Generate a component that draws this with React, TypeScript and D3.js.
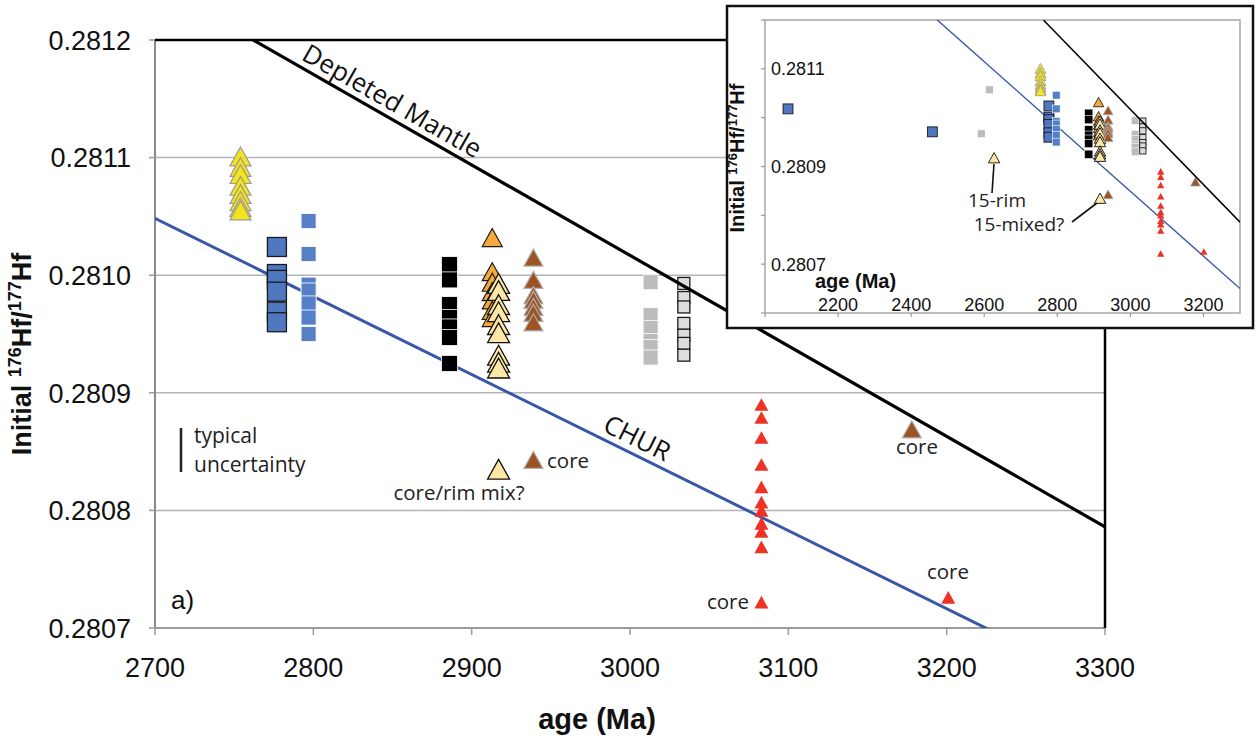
import React from "react";
import * as d3 from "d3";

const width = 1258;
const height = 747;

// main plot frame
const main = { left: 155, right: 1105, top: 40, bottom: 628 };
// inset frame
const insetBox = { left: 727, right: 1253, top: 6, bottom: 328 };
const inset = { left: 765, right: 1240, top: 20, bottom: 313 };

// ---- data (age in Ma, initial 176Hf/177Hf) ----
const yellowAges = [2754, 2754, 2754, 2754, 2754, 2754, 2754, 2754];
const yellowVals = [0.281101, 0.281092, 0.281086, 0.281076, 0.281069, 0.281063, 0.281058, 0.281055];

const bigBlueAges = [2063, 2458, 2777, 2777, 2777, 2777, 2777, 2777];
const bigBlueVals = [0.281018, 0.280971, 0.281024, 0.281001, 0.280996, 0.280986, 0.280969, 0.28096];

const smallBlueAges = [2797, 2797, 2797, 2797, 2797, 2797, 2797];
const smallBlueVals = [0.281046, 0.281018, 0.280992, 0.280987, 0.280976, 0.280964, 0.28095];

const blackAges = [2886, 2886, 2886, 2886, 2886, 2886, 2886];
const blackVals = [0.281009, 0.280996, 0.280975, 0.280964, 0.280956, 0.280947, 0.280925];

const orangeAges = [2913, 2913, 2913, 2913, 2913, 2913, 2913];
const orangeVals = [0.281032, 0.281003, 0.280994, 0.280986, 0.280979, 0.28097, 0.280964];

const paleAges = [2627, 2917, 2917, 2917, 2917, 2917, 2917, 2917, 2917, 2917, 2917];
const paleVals = [0.280918, 0.280993, 0.280987, 0.280975, 0.280969, 0.280958, 0.280951, 0.280932, 0.280926, 0.280921, 0.280835];

const brownAges = [2939, 2939, 2939, 2939, 2939, 2939, 2939, 2939, 3178];
const brownVals = [0.281015, 0.280996, 0.280983, 0.280979, 0.280973, 0.280968, 0.28096, 0.280843, 0.280869];

const greyAges = [2614, 2592, 3013, 3013, 3013, 3013, 3013, 3013];
const greyVals = [0.281057, 0.280967, 0.280994, 0.280966, 0.280955, 0.280944, 0.280939, 0.28093];

const lightGreyAges = [3034, 3034, 3034, 3034, 3034, 3034, 3034];
const lightGreyVals = [0.280993, 0.280981, 0.280973, 0.280959, 0.280949, 0.280942, 0.280932];

const redAges = [3083, 3083, 3083, 3083, 3083, 3083, 3083, 3083, 3083, 3083, 3083, 3201];
const redVals = [0.28089, 0.280879, 0.280862, 0.280839, 0.28082, 0.280807, 0.2808, 0.280789, 0.280782, 0.280769, 0.280722, 0.280726];

// evolution lines
const churAges = [2000, 3300];
const churVals = [0.281513, 0.28065];
const dmAges = [2762, 3300];
const dmVals = [0.2812, 0.280786];

const xTicks = [2700, 2800, 2900, 3000, 3100, 3200, 3300];
const yTicks = [0.2807, 0.2808, 0.2809, 0.281, 0.2811, 0.2812];
const insetXTicks = [2200, 2400, 2600, 2800, 3000, 3200];
const insetYTicks = [0.2807, 0.2809, 0.2811];
const insetYMinor = [0.2806, 0.2807, 0.2808, 0.2809, 0.281, 0.2811, 0.2812];

const zip = (a, v) => a.map((d, i) => [d, v[i]]);

const series = [
  { pts: zip(bigBlueAges, bigBlueVals), shape: "sq", size: 19, fill: "#4f78c0", stroke: "#1a1a1a", sw: 1.3 },
  { pts: zip(smallBlueAges, smallBlueVals), shape: "sq", size: 15, fill: "#5580c6", stroke: "#ffffff", sw: 0.8 },
  { pts: zip(yellowAges, yellowVals), shape: "tri", size: 21, fill: "#f4e41a", stroke: "#9a9a9a", sw: 1.2 },
  { pts: zip(blackAges, blackVals), shape: "sq", size: 16, fill: "#000000", stroke: "#ffffff", sw: 0.8 },
  { pts: zip(orangeAges, orangeVals), shape: "tri", size: 20, fill: "#f5a93a", stroke: "#1a1a1a", sw: 1.2 },
  { pts: zip(paleAges, paleVals), shape: "tri", size: 22, fill: "#fde7a6", stroke: "#111111", sw: 1.3 },
  { pts: zip(brownAges, brownVals), shape: "tri", size: 19, fill: "#9c5424", stroke: "#b0b0b0", sw: 1.2 },
  { pts: zip(greyAges, greyVals), shape: "sq", size: 15, fill: "#bcbcbc", stroke: "#ffffff", sw: 0.8 },
  { pts: zip(lightGreyAges, lightGreyVals), shape: "sq", size: 12, fill: "#dddddd", stroke: "#1a1a1a", sw: 1.3 },
  { pts: zip(redAges, redVals), shape: "tri", size: 14, fill: "#ee3224", stroke: "none", sw: 0 },
];

const xMain = d3.scaleLinear().domain([2700, 3300]).range([main.left, main.right]);
const yMain = d3.scaleLinear().domain([0.2807, 0.2812]).range([main.bottom, main.top]);
const xIn = d3.scaleLinear().domain([2000, 3300]).range([inset.left, inset.right]);
const yIn = d3.scaleLinear().domain([0.2806, 0.2812]).range([inset.bottom, inset.top]);

function Marker({ shape, cx, cy, size, fill, stroke, sw }) {
  if (shape === "sq") {
    return <rect x={cx - size / 2} y={cy - size / 2} width={size} height={size} fill={fill} stroke={stroke} strokeWidth={sw} />;
  }
  const h = size * 0.9;
  const p = `M${cx},${cy - h / 2}L${cx + size / 2},${cy + h / 2}L${cx - size / 2},${cy + h / 2}Z`;
  return <path d={p} fill={fill} stroke={stroke} strokeWidth={sw} strokeLinejoin="miter" />;
}

function Points({ x, y, k }) {
  return (
    <g>
      {series.map((s, si) =>
        s.pts.map((d, i) => (
          <Marker key={si + "-" + i} shape={s.shape} cx={x(d[0])} cy={y(d[1])} size={s.size * k}
            fill={s.fill} stroke={s.stroke} sw={s.sw * (k < 1 ? 0.7 : 1)} />
        ))
      )}
    </g>
  );
}

const line = (x, y, ages, vals) =>
  d3.line().x(d => x(d[0])).y(d => y(d[1]))(zip(ages, vals));

export default function App() {
  const annFont = "'Open Sans', 'Noto Sans', sans-serif";
  const tickFont = "'Liberation Sans', Arial, sans-serif";

  // angles for on-line labels
  const dmAngle = Math.atan2(yMain(dmVals[1]) - yMain(dmVals[0]), xMain(dmAges[1]) - xMain(dmAges[0])) * 180 / Math.PI;
  const churAngle = Math.atan2(yMain(churVals[1]) - yMain(churVals[0]), xMain(churAges[1]) - xMain(churAges[0])) * 180 / Math.PI;
  const dmAt = a => dmVals[0] + (a - dmAges[0]) * (dmVals[1] - dmVals[0]) / (dmAges[1] - dmAges[0]);
  const churAt = a => churVals[0] + (a - churAges[0]) * (churVals[1] - churVals[0]) / (churAges[1] - churAges[0]);

  return (
    <svg width={width} height={height} style={{ position: "absolute", left: 0, top: 0, background: "#fff" }}>
      <defs>
        <clipPath id="mainClip">
          <rect x={main.left} y={main.top} width={main.right - main.left} height={main.bottom - main.top} />
        </clipPath>
        <clipPath id="insetClip">
          <rect x={inset.left} y={inset.top} width={inset.right - inset.left} height={inset.bottom - inset.top} />
        </clipPath>
      </defs>

      {/* gridlines */}
      {yTicks.slice(1, -1).map(t => (
        <line key={t} x1={main.left} x2={main.right} y1={yMain(t)} y2={yMain(t)} stroke="#b4b4b4" strokeWidth={1.5} />
      ))}

      {/* axes */}
      <line x1={main.left} x2={main.left} y1={main.top} y2={main.bottom} stroke="#8a8a8a" strokeWidth={2} />
      <line x1={main.left} x2={main.right} y1={main.bottom} y2={main.bottom} stroke="#9a9a9a" strokeWidth={2} />
      <line x1={main.left} x2={main.right} y1={main.top} y2={main.top} stroke="#000" strokeWidth={2.5} />
      <line x1={main.right} x2={main.right} y1={main.top} y2={main.bottom} stroke="#000" strokeWidth={2.5} />
      {yTicks.map(t => (
        <g key={t}>
          <line x1={main.left - 6} x2={main.left} y1={yMain(t)} y2={yMain(t)} stroke="#9a9a9a" strokeWidth={1.5} />
          <text x={131} y={yMain(t)} dy="0.36em" textAnchor="end" fontFamily={tickFont} fontSize={27} fill="#111">
            {t.toFixed(4)}
          </text>
        </g>
      ))}
      {xTicks.map(t => (
        <g key={t}>
          <line x1={xMain(t)} x2={xMain(t)} y1={main.bottom} y2={main.bottom + 7} stroke="#9a9a9a" strokeWidth={1.5} />
          <text x={xMain(t)} y={677} textAnchor="middle" fontFamily={tickFont} fontSize={27} fill="#111">{t}</text>
        </g>
      ))}
      <text x={597} y={729} textAnchor="middle" fontFamily={tickFont} fontWeight="bold" fontSize={29} fill="#111">age (Ma)</text>
      <text transform="translate(31,354) rotate(-90)" textAnchor="middle" fontFamily={tickFont} fontWeight="bold" fontSize={27} fill="#111">
        Initial <tspan fontSize={18} dy={-10}>176</tspan><tspan dy={10}>Hf/</tspan><tspan fontSize={18} dy={-10}>177</tspan><tspan dy={10}>Hf</tspan>
      </text>

      {/* main plot content */}
      <g clipPath="url(#mainClip)">
        <path d={line(xMain, yMain, churAges, churVals)} fill="none" stroke="#3857a8" strokeWidth={3} />
        <Points x={xMain} y={yMain} k={1} />
        <path d={line(xMain, yMain, dmAges, dmVals)} fill="none" stroke="#000" strokeWidth={3.2} />
      </g>

      {/* line labels */}
      <text transform={`translate(${xMain(2847)},${yMain(dmAt(2847)) - 8}) rotate(${dmAngle})`} textAnchor="middle"
        fontFamily={annFont} fontSize={26} fill="#111">Depleted Mantle</text>
      <text transform={`translate(${xMain(3002)},${yMain(churAt(3002)) - 8}) rotate(${churAngle})`} textAnchor="middle"
        fontFamily={annFont} fontSize={26} fill="#111">CHUR</text>

      {/* annotations */}
      <line x1={181} x2={181} y1={428} y2={472} stroke="#222" strokeWidth={2.5} />
      <text x={194} y={443} fontFamily={annFont} fontSize={21} fill="#222">typical</text>
      <text x={194} y={472} fontFamily={annFont} fontSize={21} fill="#222">uncertainty</text>
      <text x={459} y={500} textAnchor="middle" fontFamily={annFont} fontSize={20.5} fill="#222">core/rim mix?</text>
      <text x={547} y={468} fontFamily={annFont} fontSize={20.5} fill="#222">core</text>
      <text x={917} y={454} textAnchor="middle" fontFamily={annFont} fontSize={20.5} fill="#222">core</text>
      <text x={948} y={579} textAnchor="middle" fontFamily={annFont} fontSize={20.5} fill="#222">core</text>
      <text x={749} y={609} textAnchor="end" fontFamily={annFont} fontSize={20.5} fill="#222">core</text>
      <text x={171} y={609} fontFamily={tickFont} fontSize={26} fill="#111">a)</text>

      {/* inset */}
      <rect x={insetBox.left} y={insetBox.top} width={insetBox.right - insetBox.left} height={insetBox.bottom - insetBox.top}
        fill="#fff" stroke="#111" strokeWidth={2.5} />
      <rect x={inset.left} y={inset.top} width={inset.right - inset.left} height={inset.bottom - inset.top}
        fill="none" stroke="#9a9a9a" strokeWidth={1.3} />
      {insetYMinor.map(t => (
        <line key={t} x1={inset.left - 4} x2={inset.left} y1={yIn(t)} y2={yIn(t)} stroke="#9a9a9a" strokeWidth={1.2} />
      ))}
      {[2000, ...insetXTicks].map(t => (
        <line key={t} x1={xIn(t)} x2={xIn(t)} y1={inset.bottom} y2={inset.bottom + 4} stroke="#9a9a9a" strokeWidth={1.2} />
      ))}
      <g clipPath="url(#insetClip)">
        <path d={line(xIn, yIn, churAges, churVals)} fill="none" stroke="#3857a8" strokeWidth={1.4} />
        <Points x={xIn} y={yIn} k={0.52} />
        <path d={line(xIn, yIn, dmAges, dmVals)} fill="none" stroke="#000" strokeWidth={1.5} />
      </g>
      {insetYTicks.map(t => (
        <text key={t} x={771} y={yIn(t)} dy="0.36em" fontFamily={tickFont} fontSize={18} fill="#111">{t.toFixed(4)}</text>
      ))}
      {insetXTicks.map(t => (
        <text key={t} x={xIn(t)} y={311} textAnchor="middle" fontFamily={tickFont} fontSize={18} fill="#111">{t}</text>
      ))}
      <text x={815} y={288} fontFamily={tickFont} fontWeight="bold" fontSize={20} fill="#111">age (Ma)</text>
      <text transform="translate(744,158) rotate(-90)" textAnchor="middle" fontFamily={tickFont} fontWeight="bold" fontSize={20} fill="#111">
        Initial <tspan fontSize={13} dy={-7}>176</tspan><tspan dy={7}>Hf/</tspan><tspan fontSize={13} dy={-7}>177</tspan><tspan dy={7}>Hf</tspan>
      </text>
      {/* inset callouts */}
      <line x1={992} x2={994} y1={193} y2={164} stroke="#111" strokeWidth={1.6} />
      <line x1={1072} x2={1097} y1={222} y2={203} stroke="#111" strokeWidth={1.6} />
      <text x={997} y={207} textAnchor="middle" fontFamily={annFont} fontSize={19} fill="#222">15-rim</text>
      <text x={1019} y={231} textAnchor="middle" fontFamily={annFont} fontSize={19} fill="#222">15-mixed?</text>
    </svg>
  );
}
